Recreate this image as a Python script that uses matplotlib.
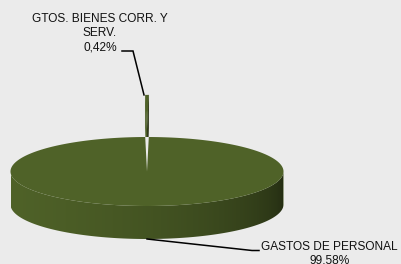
import numpy as np
import matplotlib.pyplot as plt
from matplotlib.patches import Polygon

# datos del grafico
etiquetas = ["GASTOS DE PERSONAL", "GTOS. BIENES CORR. Y\nSERV."]
valores = [99.58, 0.42]
explotar = [0.0, 1.22]

# estilo
fondo = "#ebebeb"
verde = np.array([79, 98, 40]) / 255.0
texto_color = "#111111"

# geometria de la torta 3D (pixeles)
cx, cy = 147, 171.5
rx, ry = 136.5, 34.5
alto = 33

fig = plt.figure(figsize=(4.01, 2.64), dpi=100, facecolor=fondo)
ax = fig.add_axes([0, 0, 1, 1])
ax.set_xlim(0, 401)
ax.set_ylim(264, 0)
ax.axis("off")
ax.set_facecolor(fondo)

total = sum(valores)
fracs = [v / total for v in valores]


def punto(t, dx=0.0, dy=0.0, z=0.0):
    return cx + dx + rx * np.cos(t), cy + dy - ry * np.sin(t) + z


def tono(f):
    return tuple(np.clip(verde * f, 0, 1))


def sombra(t):
    u = ((t % (2 * np.pi)) - np.pi) / np.pi
    return 1.0 - 0.58 * np.clip(u, 0, 1) ** 2


def pared_frontal(t1, t2, dx, dy, z0):
    # tramo visible de la pared exterior
    a, b = max(t1, np.pi), min(t2, 2 * np.pi)
    if b <= a:
        return
    ts = np.linspace(a, b, 300)
    xs, ys = punto(ts, dx, dy)
    pts = list(zip(xs, ys)) + list(zip(xs[::-1], ys[::-1] + alto))
    poly = Polygon(pts, closed=True, fc="none", ec="none", zorder=z0)
    ax.add_patch(poly)
    # degradado horizontal segun el angulo
    xg = np.linspace(xs.min(), xs.max(), 400)
    tg = 2 * np.pi - np.arccos(np.clip((xg - cx - dx) / rx, -1, 1))
    col = np.array([tono(f) for f in sombra(tg)])[None, :, :]
    im = ax.imshow(col, extent=[xs.min(), xs.max(), ys.max() + alto, ys.min()],
                   aspect="auto", interpolation="bilinear", zorder=z0)
    im.set_clip_path(poly)


def dibujar_porcion(t1, t2, exp, z0):
    tm = (t1 + t2) / 2
    dx, dy = exp * rx * np.cos(tm), -exp * ry * np.sin(tm)
    # paredes radiales
    for t, normal, f in [(t1, t1 - np.pi / 2, 0.5), (t2, t2 + np.pi / 2, 0.95)]:
        if np.sin(normal) < 0:
            xo, yo = punto(t, dx, dy)
            xs, ys = cx + dx, cy + dy
            pts = [(xs, ys), (xo, yo), (xo, yo + alto), (xs, ys + alto)]
            ax.add_patch(Polygon(pts, closed=True, fc=tono(f), ec=tono(f), lw=0.3, zorder=z0))
    pared_frontal(t1 % (2 * np.pi), t1 % (2 * np.pi) + (t2 - t1), dx, dy, z0)
    # cara superior
    tt = np.linspace(t1, t2, 400)
    xs, ys = punto(tt, dx, dy)
    pts = [(cx + dx, cy + dy)] + list(zip(xs, ys))
    ax.add_patch(Polygon(pts, closed=True, fc=tono(1.0), ec="none", zorder=z0 + 0.5))
    return dx, dy


# angulos: la porcion chica centrada atras
inicio = np.pi / 2 + fracs[1] * np.pi
angulos = []
t = inicio
for fr in fracs:
    angulos.append((t, t + fr * 2 * np.pi))
    t += fr * 2 * np.pi

# porcion chica (detras)
t1, t2 = angulos[1]
dx1, dy1 = dibujar_porcion(t1, t2, explotar[1], 1)

# silueta con color de fondo para tapar lo que queda detras
tt = np.linspace(0, 2 * np.pi, 400)
ex, ey = punto(tt)
ax.add_patch(Polygon(list(zip(ex, ey)), closed=True, fc=fondo, ec="none", zorder=3))
tf = np.linspace(np.pi, 2 * np.pi, 200)
fx, fy = punto(tf)
pts = list(zip(fx, fy)) + list(zip(fx[::-1], fy[::-1] + alto))
ax.add_patch(Polygon(pts, closed=True, fc=fondo, ec="none", zorder=3))

# porcion grande
t1, t2 = angulos[0]
dibujar_porcion(t1, t2, explotar[0], 4)

# etiquetas con lineas guia
pct = [f"{f * 100:.2f}".replace(".", ",") + "%" for f in fracs]

# porcion chica
tm = sum(angulos[1]) / 2
ax_x, ax_y = punto(tm, dx1, dy1)
ax.plot([122, 133, ax_x - 3], [51, 51, ax_y], color="black", lw=1.1, zorder=7,
        solid_joinstyle="miter")
ax.text(100, 12.5, etiquetas[1] + "\n" + pct[1], ha="center", va="top",
        fontsize=8.6, family="Liberation Sans", color=texto_color, linespacing=1.25, zorder=8)

# porcion grande
tm = sum(angulos[0]) / 2
bx, by = punto(tm, z=alto)
ax.plot([bx, 252, 259], [by, 250.5, 250.5], color="black", lw=1.1, zorder=7)
ax.text(329.5, 240.5, etiquetas[0] + "\n" + pct[0], ha="center", va="top",
        fontsize=8.6, family="Liberation Sans", color=texto_color, linespacing=1.25, zorder=8)

plt.savefig("out.png", dpi=100, facecolor=fondo)
plt.close()
